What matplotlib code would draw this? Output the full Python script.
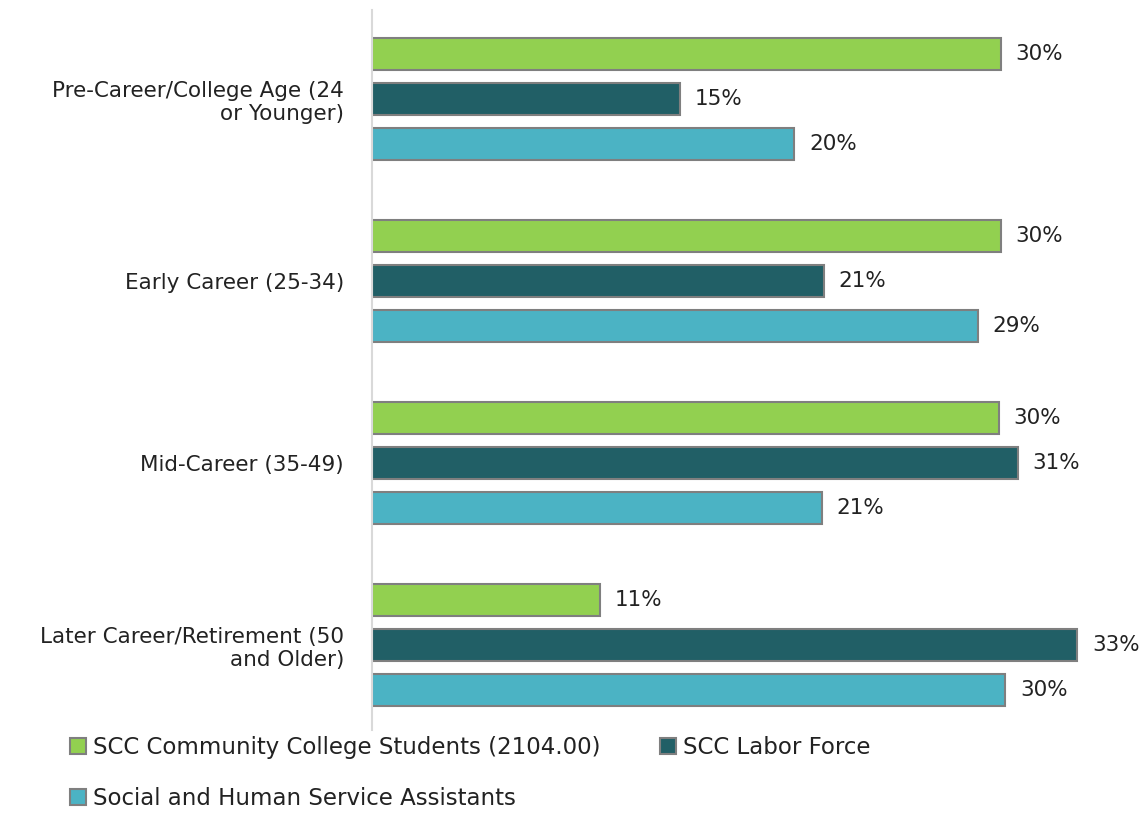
import numpy as np
import matplotlib.pyplot as plt

categories = ["Pre-Career/College Age (24\nor Younger)",
              "Early Career (25-34)",
              "Mid-Career (35-49)",
              "Later Career/Retirement (50\nand Older)"]
series_names = ["SCC Community College Students (2104.00)",
                "SCC Labor Force",
                "Social and Human Service Assistants"]
students = [29.8, 29.8, 29.7, 10.8]
labor_force = [14.6, 21.4, 30.6, 33.4]
assistants = [20.0, 28.7, 21.3, 30.0]
colors = ["#92D050", "#215F66", "#4BB3C4"]

plt.rcParams['font.family'] = ['DejaVu Sans']

fig = plt.figure(figsize=(11.44, 8.13), dpi=100)
ax = fig.add_axes([0.325, 0.102, 0.646, 0.886])

y = np.arange(len(categories))
offset = 0.247
height = 0.176
handles = []
for i, (vals, name, c) in enumerate(zip([students, labor_force, assistants], series_names, colors)):
    pos = y + (i - 1) * offset
    bars = ax.barh(pos, vals, height=height, color=c, edgecolor="#7F7F7F",
                   linewidth=1.5, label=name)
    handles.append(bars)
    for p, v in zip(pos, vals):
        ax.text(v + 0.7, p, "{:.0f}%".format(v), va="center", ha="left",
                fontsize=15.5, color="#222222")

ax.set_yticks(y)
ax.set_yticklabels(categories, fontsize=15.5, color="#222222")
ax.set_ylim(3.47, -0.49)
ax.set_xlim(0, 35)
ax.set_xticks([])
ax.tick_params(axis="y", length=0, pad=20)
for s in ["top", "right", "bottom"]:
    ax.spines[s].set_visible(False)
ax.spines["left"].set_color("#D9D9D9")
ax.spines["left"].set_linewidth(1.5)

# legend fills column-wise, so reorder to get the row layout
order = [0, 2, 1]
fig.legend(handles=[handles[k] for k in order],
           labels=[series_names[k] for k in order], loc="upper left",
           bbox_to_anchor=(0.043, 0.12), ncol=2, frameon=False,
           fontsize=16.5, handlelength=0.7, handleheight=0.7,
           handletextpad=0.3, columnspacing=2.6, labelspacing=1.2,
           labelcolor="#222222")

fig.savefig("out.png", dpi=100)
